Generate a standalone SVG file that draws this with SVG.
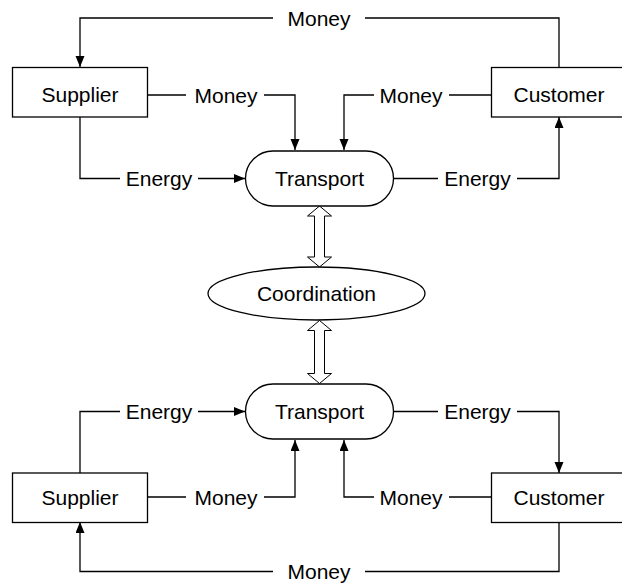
<svg xmlns="http://www.w3.org/2000/svg" width="622" height="583" viewBox="0 0 622 583">
<defs>
<marker id="ah" markerUnits="userSpaceOnUse" markerWidth="12" markerHeight="10" refX="11" refY="4.5" orient="auto">
<path d="M0,0 L11,4.5 L0,9 z" fill="#000"/>
</marker>
<style>
.box{fill:#fff;stroke:#000;stroke-width:1.3}
.ln{fill:none;stroke:#000;stroke-width:1.3}
.arr{fill:none;stroke:#000;stroke-width:1.3;marker-end:url(#ah)}
.dbl{fill:#fff;stroke:#000;stroke-width:1}
text{font-family:"Liberation Sans",Arial,sans-serif;font-size:21px;fill:#000;text-anchor:middle}
</style>
</defs>
<rect width="622" height="583" fill="#fff"/>

<g id="connectors">
  <!-- top half -->
  <path class="arr" d="M273,18 H80 V67"/>
  <path class="ln" d="M365,18 H559 V67"/>
  <path class="ln" d="M148,95 H186"/>
  <path class="arr" d="M264,95 H295 V150"/>
  <path class="ln" d="M491,95 H449"/>
  <path class="arr" d="M374,95 H344 V150"/>
  <path class="ln" d="M80,117 V178.5 H120"/>
  <path class="arr" d="M198,178.5 H245"/>
  <path class="ln" d="M394,178.5 H438"/>
  <path class="arr" d="M517,178.5 H559 V117"/>
  <!-- bottom half -->
  <path class="ln" d="M80,473 V411.5 H120"/>
  <path class="arr" d="M198,411.5 H245"/>
  <path class="ln" d="M394,411.5 H438"/>
  <path class="arr" d="M517,411.5 H559 V473"/>
  <path class="ln" d="M148,497 H186"/>
  <path class="arr" d="M264,497 H295 V440"/>
  <path class="ln" d="M491,497 H449"/>
  <path class="arr" d="M374,497 H344 V440"/>
  <path class="arr" d="M273,571.5 H80 V522"/>
  <path class="ln" d="M365,571.5 H559 V522"/>
  <!-- coordination double arrows -->
  <polygon class="dbl" points="319.5,206 331.5,216 324.5,216 324.5,257 331.5,257 319.5,267 307.5,257 314.5,257 314.5,216 307.5,216"/>
  <polygon class="dbl" points="319.5,320.5 331.5,330.5 324.5,330.5 324.5,373.5 331.5,373.5 319.5,383.5 307.5,373.5 314.5,373.5 314.5,330.5 307.5,330.5"/>
</g>

<g id="labels">
  <text x="319" y="25.5">Money</text>
  <text x="226" y="102.5">Money</text>
  <text x="411" y="102.5">Money</text>
  <text x="159" y="186">Energy</text>
  <text x="477.5" y="186">Energy</text>
  <text x="159" y="419">Energy</text>
  <text x="477.5" y="419">Energy</text>
  <text x="226" y="504.5">Money</text>
  <text x="411" y="504.5">Money</text>
  <text x="319" y="579">Money</text>
</g>

<g id="supplier-top">
  <rect class="box" x="12.5" y="67.5" width="135" height="49.5"/>
  <text x="80" y="102">Supplier</text>
</g>
<g id="customer-top">
  <rect class="box" x="491.5" y="67.5" width="136" height="49.5"/>
  <text x="559" y="102">Customer</text>
</g>
<g id="transport-top">
  <rect class="box" x="245.5" y="151" width="148" height="55" rx="27.5" ry="27.5"/>
  <text x="319.5" y="186">Transport</text>
</g>
<g id="coordination">
  <ellipse class="box" cx="316.5" cy="293.5" rx="108.5" ry="26.5"/>
  <text x="316.5" y="301">Coordination</text>
</g>
<g id="transport-bottom">
  <rect class="box" x="245.5" y="384" width="148" height="55" rx="27.5" ry="27.5"/>
  <text x="319.5" y="419">Transport</text>
</g>
<g id="supplier-bottom">
  <rect class="box" x="12.5" y="473" width="135" height="49.5"/>
  <text x="80" y="505">Supplier</text>
</g>
<g id="customer-bottom">
  <rect class="box" x="491.5" y="473" width="136" height="49.5"/>
  <text x="559" y="505">Customer</text>
</g>
</svg>
